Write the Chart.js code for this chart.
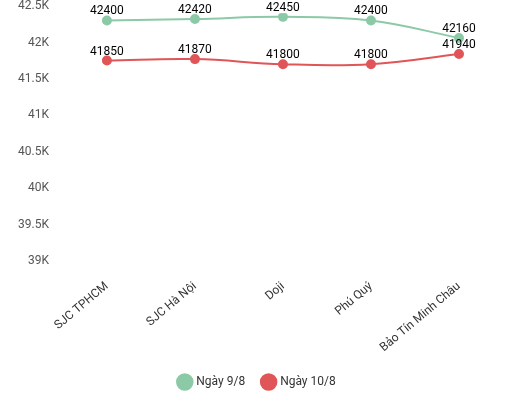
<!DOCTYPE html>
<html><head><meta charset="utf-8">
<script src="https://cdn.jsdelivr.net/npm/chart.js@4"></script>
<style>body{margin:0;background:#fff}#w{width:513px;height:403px}</style>
</head><body><div id="w"><canvas id="c"></canvas></div>
<script>
const categories=["SJC TPHCM","SJC Hà Nội","Doji","Phú Quý","Bảo Tín Minh Châu"];
const series1=[42400,42420,42450,42400,42160];
const series2=[41850,41870,41800,41800,41940];
const seriesNames=["Ngày 9/8","Ngày 10/8"];
Chart.defaults.font.family="Roboto";
const labelPlugin={id:'lbl',afterDatasetsDraw(ch){const ctx=ch.ctx;ctx.save();ctx.font='12px Roboto';ctx.fillStyle='#000';ctx.textAlign='center';ctx.textBaseline='bottom';
ch.data.datasets.forEach((ds,i)=>{ch.getDatasetMeta(i).data.forEach((p,j)=>{ctx.fillText(ds.data[j],p.x,p.y-3);});});ctx.restore();}};
new Chart(document.getElementById('c'),{type:'line',
data:{labels:categories,datasets:[
{label:seriesNames[0],data:series1,borderColor:'#8cc9a6',backgroundColor:'#8cc9a6',pointRadius:4,pointHoverRadius:4,borderWidth:2,tension:0.4},
{label:seriesNames[1],data:series2,borderColor:'#e05557',backgroundColor:'#e05557',pointRadius:4,pointHoverRadius:4,borderWidth:2,tension:0.4}]},
options:{animation:false,responsive:true,maintainAspectRatio:false,
layout:{padding:{top:13,right:10,left:12,bottom:5}},
scales:{y:{min:39000,max:42500,grid:{display:false},border:{display:false},
ticks:{stepSize:500,color:'#555',font:{size:12},padding:6,labelOffset:-7,callback:v=>(v/1000)+'K'}},
x:{offset:true,grid:{display:false},border:{display:false},ticks:{color:'#333',font:{size:12},minRotation:40,maxRotation:40}}},
plugins:{legend:{position:'bottom',labels:{usePointStyle:true,pointStyle:'circle',boxWidth:11,boxHeight:11,color:'#333',font:{size:12},padding:18}},tooltip:{enabled:false}}},
plugins:[labelPlugin]});
</script></body></html>
